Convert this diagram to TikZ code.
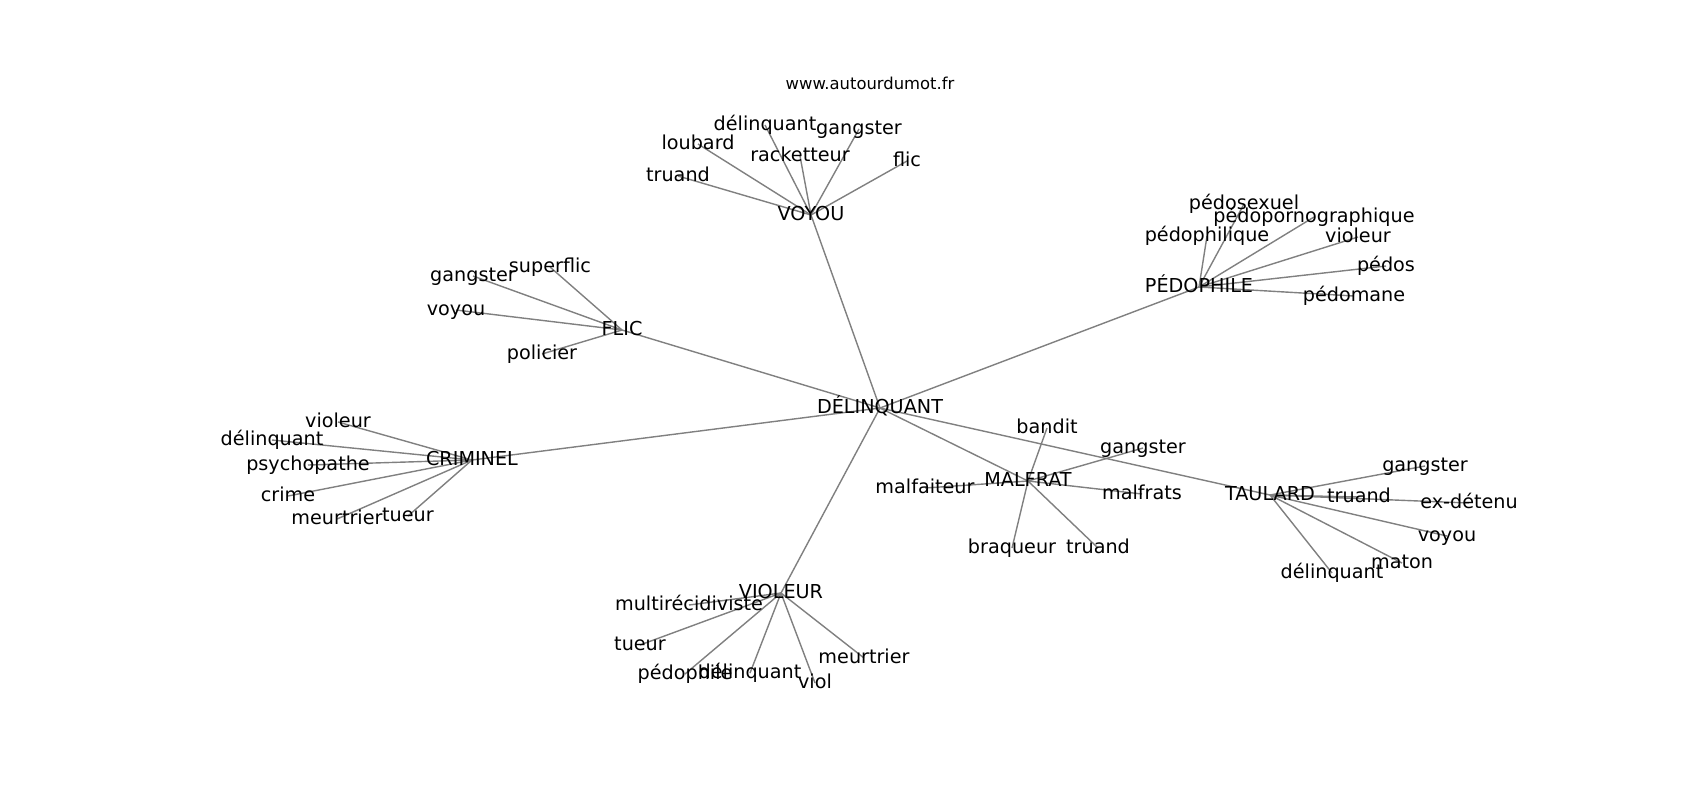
\documentclass[tikz,border=0pt]{standalone}
\usepackage{fontspec}
\setmainfont{DejaVu Sans}

\begin{document}
\begin{tikzpicture}[x=0.5pt,y=-0.5pt,
    link/.style={draw=gray, line width=0.7pt},
    word/.style={inner sep=0pt, text height=0.76em, text depth=0.24em,
        font=\fontsize{9.6}{11}\selectfont},
    site/.style={inner sep=0pt, text height=0.76em, text depth=0.24em,
        font=\fontsize{8.2}{10}\selectfont}]

\useasboundingbox[fill=white] (0,0) rectangle (1700,800);

% Hubs
\coordinate (del) at (880,408);
\coordinate (voy) at (811,215);
\coordinate (ped) at (1199,287);
\coordinate (fli) at (622,330);
\coordinate (cri) at (472,460);
\coordinate (vio) at (781,593);
\coordinate (mal) at (1028,481);
\coordinate (tau) at (1270,495);

% VOYOU
\coordinate (voy1) at (678,176);
\coordinate (voy2) at (698,144);
\coordinate (voy3) at (765,125);
\coordinate (voy4) at (859,129);
\coordinate (voy5) at (800,156);
\coordinate (voy6) at (907,161);

% PEDOPHILE
\coordinate (ped1) at (1244,204);
\coordinate (ped2) at (1314,217);
\coordinate (ped3) at (1207,236);
\coordinate (ped4) at (1358,237);
\coordinate (ped5) at (1386,266);
\coordinate (ped6) at (1354,296);

% FLIC
\coordinate (fli1) at (550,267);
\coordinate (fli2) at (473,276);
\coordinate (fli3) at (456,310);
\coordinate (fli4) at (542,354);

% CRIMINEL
\coordinate (cri1) at (338,422);
\coordinate (cri2) at (272,440);
\coordinate (cri3) at (308,465);
\coordinate (cri4) at (288,496);
\coordinate (cri5) at (337,519);
\coordinate (cri6) at (408,516);

% VIOLEUR
\coordinate (vio1) at (689,605);
\coordinate (vio2) at (640,645);
\coordinate (vio3) at (685,674);
\coordinate (vio4) at (750,673);
\coordinate (vio5) at (815,683);
\coordinate (vio6) at (864,658);

% MALFRAT
\coordinate (mal1) at (1047,428);
\coordinate (mal2) at (1143,448);
\coordinate (mal3) at (925,488);
\coordinate (mal4) at (1142,494);
\coordinate (mal5) at (1012,548);
\coordinate (mal6) at (1098,548);

% TAULARD
\coordinate (tau1) at (1425,466);
\coordinate (tau2) at (1359,497);
\coordinate (tau3) at (1469,503);
\coordinate (tau4) at (1447,536);
\coordinate (tau5) at (1402,563);
\coordinate (tau6) at (1332,573);

% Edges
\foreach \h in {voy,ped,fli,cri,vio,mal,tau}
    \draw[link] (del) -- (\h);
\foreach \h/\n in {voy/6,ped/6,fli/4,cri/6,vio/6,mal/6,tau/6}
    \foreach \i in {1,...,\n}
        \draw[link] (\h) -- (\h\i);

% Labels
\foreach \c/\t in {del/DÉLINQUANT, voy/VOYOU, ped/PÉDOPHILE, fli/FLIC,
    cri/CRIMINEL, vio/VIOLEUR, mal/MALFRAT, tau/TAULARD,
    voy1/truand, voy2/loubard, voy3/délinquant, voy4/gangster,
    voy5/racketteur, voy6/flic,
    ped1/pédosexuel, ped2/pédopornographique, ped3/pédophilique,
    ped4/violeur, ped5/pédos, ped6/pédomane,
    fli1/superflic, fli2/gangster, fli3/voyou, fli4/policier,
    cri1/violeur, cri2/délinquant, cri3/psychopathe, cri4/crime,
    cri5/meurtrier, cri6/tueur,
    vio1/multirécidiviste, vio2/tueur, vio3/pédophile, vio4/délinquant,
    vio5/viol, vio6/meurtrier,
    mal1/bandit, mal2/gangster, mal3/malfaiteur, mal4/malfrats,
    mal5/braqueur, mal6/truand,
    tau1/gangster, tau2/truand, tau3/ex-détenu, tau4/voyou,
    tau5/maton, tau6/délinquant}
    \node[word] (w-\c) at (\c) {\t};

\node[site] (site) at (870,84) {www.autourdumot.fr};

\end{tikzpicture}
\end{document}
